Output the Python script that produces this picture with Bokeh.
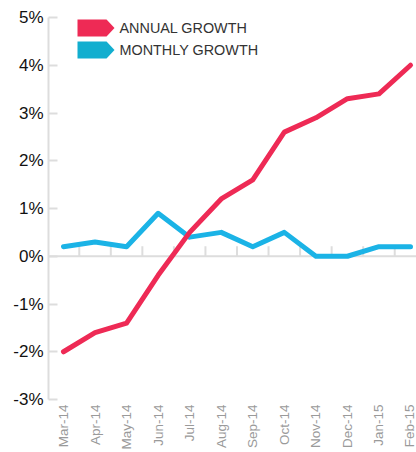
from math import pi
from bokeh.plotting import figure
from bokeh.models import Range1d, FixedTicker, PrintfTickFormatter, Span, Label, PolyAnnotation
from bokeh.embed import file_html
from bokeh.resources import INLINE

months = ["Mar-14", "Apr-14", "May-14", "Jun-14", "Jul-14", "Aug-14",
          "Sep-14", "Oct-14", "Nov-14", "Dec-14", "Jan-15", "Feb-15"]
annual = [-2.0, -1.6, -1.4, -0.4, 0.5, 1.2, 1.6, 2.6, 2.9, 3.3, 3.4, 4.0]
monthly = [0.2, 0.3, 0.2, 0.9, 0.4, 0.5, 0.2, 0.5, 0.0, 0.0, 0.2, 0.2]
y_ticks = [-3, -2, -1, 0, 1, 2, 3, 4, 5]
series_names = ["ANNUAL GROWTH", "MONTHLY GROWTH"]

RED = "#ee2a55"
BLUE = "#1bb3e6"
BLUE_LEG = "#12aecf"

W, H = 416, 452
BL, BT, BB, BR = 48, 17, 52, 0
X0, X1 = -0.475, 11.19
Y0, Y1 = -3, 5
FRAME_L, FRAME_R = BL, W
FRAME_T = BT
FRAME_H = H - BT - BB

def fx(px):
    return X0 + (px - FRAME_L) / (FRAME_R - FRAME_L) * (X1 - X0)

def fy(py):
    return Y1 - (py - FRAME_T) / FRAME_H * (Y1 - Y0)

p = figure(width=W, height=H, x_range=Range1d(X0, X1), y_range=Range1d(Y0, Y1),
           output_backend="svg", toolbar_location=None,
           min_border_left=BL, min_border_right=BR, min_border_top=BT, min_border_bottom=BB)
p.outline_line_color = None
p.grid.visible = False

xs = list(range(len(months)))

# x axis (labels only)
p.xaxis.ticker = FixedTicker(ticks=xs)
p.xaxis.major_label_overrides = {i: m for i, m in enumerate(months)}
p.xaxis.major_label_orientation = pi / 2
p.xaxis.axis_line_color = None
p.xaxis.major_tick_line_color = None
p.xaxis.minor_tick_line_color = None
p.xaxis.major_tick_out = 0
p.xaxis.major_tick_in = 0
p.xaxis.minor_tick_out = 0
p.xaxis.minor_tick_in = 0
p.xaxis.major_label_text_color = "#9a9a9a"
p.xaxis.major_label_text_font = "Liberation Sans"
p.xaxis.major_label_text_font_size = "13.5px"
p.xaxis.major_label_standoff = 5

# y axis
p.yaxis.ticker = FixedTicker(ticks=y_ticks)
p.yaxis.formatter = PrintfTickFormatter(format="%d%%")
p.yaxis.axis_line_color = "#dddddd"
p.yaxis.axis_line_width = 2
p.yaxis.major_tick_line_color = "#dddddd"
p.yaxis.major_tick_line_width = 2
p.yaxis.major_tick_in = 9
p.yaxis.major_tick_out = 0
p.yaxis.minor_tick_line_color = None
p.yaxis.minor_tick_out = 0
p.yaxis.major_label_text_color = "#111111"
p.yaxis.major_label_text_font = "Liberation Sans"
p.yaxis.major_label_text_font_size = "17px"
p.yaxis.major_label_standoff = 5

# zero line with ticks between categories
p.add_layout(Span(location=0, dimension="width", line_color="#dddddd", line_width=2,
                  level="underlay"))
tick_len = 10 * (Y1 - Y0) / FRAME_H
mid = [i + 0.5 for i in xs[:-1]]
p.segment(x0=mid, x1=mid, y0=[0] * len(mid), y1=[tick_len] * len(mid),
          line_color="#dddddd", line_width=2)

p.line(xs, monthly, line_color=BLUE, line_width=5, line_join="round", line_cap="round")
p.line(xs, annual, line_color=RED, line_width=5, line_join="round", line_cap="round")

# legend
for k, (name, col) in enumerate(zip(series_names, [RED, BLUE_LEG])):
    top = 19 + k * 22
    bot = top + 17
    midy = (top + bot) / 2
    px = [77, 106, 114, 106, 77]
    py = [top, top, midy, bot, bot]
    p.add_layout(PolyAnnotation(xs=[fx(v) for v in px], ys=[fy(v) for v in py],
                                fill_color=col, fill_alpha=1.0, line_color=None))
    p.add_layout(Label(x=fx(119), y=fy(midy), text=name, text_baseline="middle",
                       text_font="Liberation Sans", text_font_size="14.4px",
                       text_color="#333333"))

open("out.html", "w").write(file_html(p, INLINE))
